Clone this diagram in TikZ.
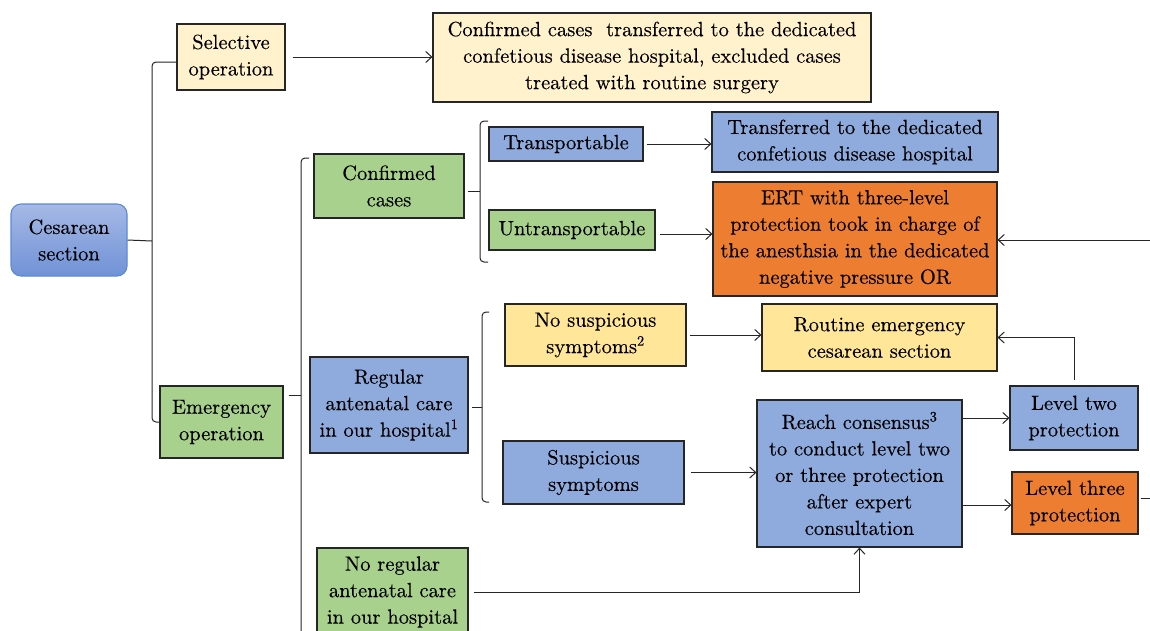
\documentclass[tikz,border=0pt]{standalone}
\usepackage{fontspec}
\setmainfont{lmroman10-regular}[Extension=.otf, FakeBold=0.25]
\usetikzlibrary{arrows.meta}
\definecolor{cream}{HTML}{FFF2CC}
\definecolor{yel}{HTML}{FFE699}
\definecolor{grn}{HTML}{A9D18E}
\definecolor{blu}{HTML}{8FAADC}
\definecolor{org}{HTML}{ED7D31}
\definecolor{edge}{HTML}{262626}
\definecolor{cesedge}{HTML}{5B8BD6}
\definecolor{cestop}{HTML}{A6B9E6}
\definecolor{cesbot}{HTML}{7092D6}
\tikzset{
  box/.style={draw=edge, line width=1.1pt, inner sep=0pt, align=center,
    font=\rmfamily\fontsize{20.5}{26.5}\selectfont},
  arr/.style={draw=edge, line width=1pt, -{Straight Barb[length=6pt,width=11pt]}},
  ln/.style={draw=edge, line width=1pt},
  brk/.style={draw=edge, line width=1pt, rounded corners=4pt},
}
\begin{document}
\begin{tikzpicture}[x=1pt,y=-1pt]
\fill[white] (0,0) rectangle (1150,630);
\useasboundingbox (0,0) rectangle (1150,630);

% nodes
\node[box, draw=cesedge, rounded corners=10pt, top color=cestop, bottom color=cesbot,
  minimum width=116pt, minimum height=72pt] (ces) at (69,240) {Cesarean\\section};
\node[box, fill=cream, minimum width=108pt, minimum height=66pt] (sel) at (231,57) {Selective\\operation};
\node[box, fill=cream, minimum width=438pt, minimum height=89pt] (conftr) at (652,57.5)
  {Confirmed cases~ transferred to the dedicated\\confetious disease hospital, excluded cases\\treated with routine surgery};
\node[box, fill=grn, minimum width=123pt, minimum height=72pt] (emer) at (221.5,422) {Emergency\\operation};
\node[box, fill=grn, minimum width=150pt, minimum height=64pt] (conf) at (389,186) {Confirmed\\cases};
\node[box, fill=blu, minimum width=158pt, minimum height=96pt] (reg) at (389,405)
  {Regular\\antenatal care\\in our hospital\textsuperscript{1}};
\node[box, fill=grn, minimum width=151pt, minimum height=88pt] (noreg) at (392.5,592)
  {No regular\\antenatal care\\in our hospital};
\node[box, fill=blu, minimum width=154pt, minimum height=34pt] (trans) at (566,144) {Transportable};
\node[box, fill=grn, minimum width=166pt, minimum height=40pt] (untrans) at (572,230) {Untransportable};
\node[box, fill=blu, minimum width=286pt, minimum height=60pt] (transf) at (855,142)
  {Transferred to the dedicated\\confetious disease hospital};
\node[box, fill=org, minimum width=284pt, minimum height=114pt] (ert) at (855,239)
  {ERT with three-level\\protection took in charge of\\the anesthsia in the dedicated\\negative pressure OR};
\node[box, fill=yel, minimum width=181pt, minimum height=62pt] (nosusp) at (595.5,335)
  {No suspicious\\symptoms\textsuperscript{2}};
\node[box, fill=blu, minimum width=181pt, minimum height=63pt] (susp) at (593.5,472.5)
  {Suspicious\\symptoms};
\node[box, fill=yel, minimum width=235pt, minimum height=67pt] (routine) at (879.5,337.5)
  {Routine emergency\\cesarean section};
\node[box, fill=blu, minimum width=205pt, minimum height=147pt] (reach) at (859.5,473.5)
  {Reach consensus\textsuperscript{3}\\to conduct level two\\or three protection\\after expert\\consultation};
\node[box, fill=blu, minimum width=128pt, minimum height=64pt] (lvl2) at (1074,418) {Level two\\protection};
\node[box, fill=org, minimum width=126pt, minimum height=62pt] (lvl3) at (1075,503) {Level three\\protection};

% brackets
\coordinate (s1) at (152,241);
\draw[brk] ([yshift=-5pt]sel.west) -| (s1) |- (emer.west);
\draw[ln] (ces.east) -- (s1);

\coordinate (s2t) at (309,158);
\coordinate (s2b) at (301,645);
\coordinate (s2m) at (301,395);
\draw[brk] (s2t) -| (s2b);
\draw[ln, shorten <=5pt] (emer.east |- s2m) -- (s2m);

\coordinate (s3) at (480,191);
\coordinate (s3t) at (488,121);
\coordinate (s3b) at (488,262);
\draw[brk] (s3t) -| (s3) |- (s3b);
\draw[ln, shorten <=3pt] (conf.east |- s3) -- (s3);

\coordinate (s4) at (482,407);
\coordinate (s4t) at (489,312);
\coordinate (s4b) at (489,502);
\draw[brk] (s4t) -| (s4) |- (s4b);
\draw[ln, shorten <=3pt] (reg.east |- s4) -- (s4);

% arrows
\draw[arr, shorten <=7pt] (sel.east) -- (sel.east -| conftr.west);
\draw[arr, shorten <=3pt] (trans.east) -- (trans.east -| transf.west);
\draw[arr, shorten <=4pt] ([yshift=-4pt]untrans.east) -- ([yshift=-4pt]untrans.east -| ert.west);
\coordinate (rin) at (1150,240);
\draw[arr] (rin) -- (rin -| ert.east);
\draw[arr, shorten <=3pt] (nosusp.east) -- (nosusp.east -| routine.west);
\draw[arr, shorten <=6pt] (susp.east) -- (susp.east -| reach.west);
\draw[arr] (lvl2.west -| reach.east) -- (lvl2.west);
\draw[arr] ([yshift=-2pt]lvl3.west -| reach.east) -- ([yshift=-2pt]lvl3.west);
\draw[arr, shorten <=5pt] (lvl2.north) |- (routine.east);
\coordinate (rout) at (1150,498);
\draw[ln, shorten <=2pt] (lvl3.east |- rout) -- (rout);
\draw[arr, shorten <=5pt] (noreg.east) -| (reach.south);
\end{tikzpicture}
\end{document}
